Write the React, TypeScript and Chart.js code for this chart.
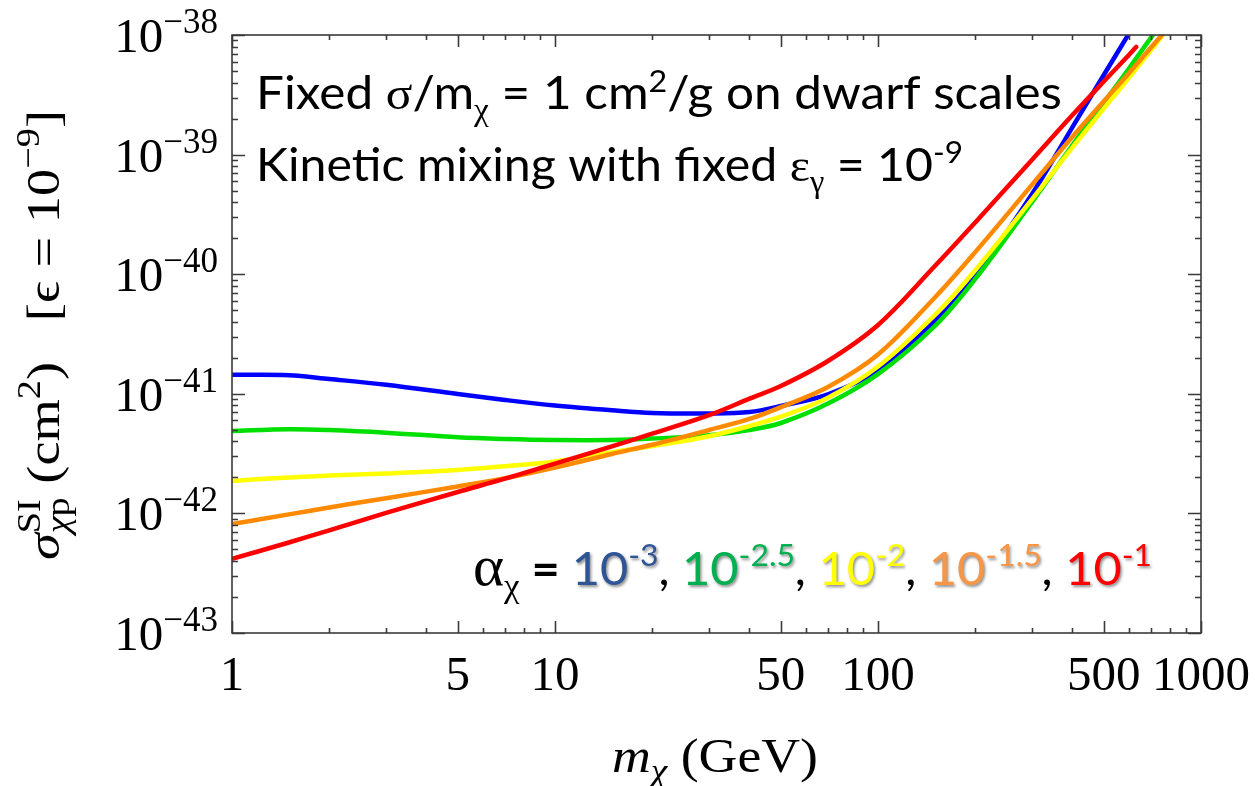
import { useEffect, useRef } from "react";
import { Chart, registerables } from "chart.js";

Chart.register(...registerables);

const WIDTH = 1255;
const HEIGHT = 786;

// Dark-matter mass grid (GeV)
const massGeV = [1, 1.5, 2, 3, 5, 7, 10, 15, 20, 30, 40, 50, 70, 100, 150, 200, 300, 400, 500, 600, 700, 800];

// σ_SI (cm²) for each α_χ, sampled on massGeV (series stop where they leave the frame)
const sigmaAlpha3 = [
  1.44e-41, 1.43e-41, 1.33e-41, 1.19e-41, 9.96e-42, 8.88e-42, 7.98e-42, 7.28e-42, 6.91e-42, 6.85e-42,
  7.05e-42, 7.91e-42, 9.89e-42, 1.58e-41, 4.06e-41, 9.66e-41, 4.69e-40, 1.7e-39, 4.63e-39, 1.04e-38,
];
const sigmaAlpha25 = [
  4.89e-42, 5.06e-42, 4.98e-42, 4.73e-42, 4.33e-42, 4.19e-42, 4.11e-42, 4.11e-42, 4.22e-42, 4.5e-42,
  4.98e-42, 5.7e-42, 8.28e-42, 1.46e-41, 3.69e-41, 9.12e-41, 4.02e-40, 1.2e-39, 2.72e-39, 5.3e-39,
  9.51e-39, 1.57e-38,
];
const sigmaAlpha2 = [
  1.87e-42, 2.0e-42, 2.07e-42, 2.16e-42, 2.31e-42, 2.48e-42, 2.72e-42, 3.25e-42, 3.65e-42, 4.42e-42,
  5.38e-42, 6.43e-42, 9.29e-42, 1.69e-41, 4.56e-41, 1.08e-40, 4.25e-40, 1.15e-39, 2.42e-39, 4.42e-39,
  7.49e-39, 1.18e-38,
];
const sigmaAlpha15 = [
  8.15e-43, 9.81e-43, 1.12e-42, 1.34e-42, 1.68e-42, 1.97e-42, 2.42e-42, 3.14e-42, 3.75e-42, 4.98e-42,
  6.16e-42, 7.73e-42, 1.14e-41, 2.13e-41, 6.39e-41, 1.53e-40, 5.61e-40, 1.41e-39, 2.79e-39, 4.84e-39,
  7.85e-39, 1.19e-38,
];
const sigmaAlpha1 = [
  4.16e-43, 5.71e-43, 7.22e-43, 1.01e-42, 1.51e-42, 1.95e-42, 2.61e-42, 3.63e-42, 4.64e-42, 6.62e-42,
  9.1e-42, 1.16e-41, 1.88e-41, 3.76e-41, 1.17e-40, 2.71e-40, 9.07e-40, 2.14e-39, 4.08e-39, 6.86e-39,
];
// the α_χ = 10^-1 curve ends inside the frame
const alpha1EndMass = 630;
const alpha1EndSigma = 7.94e-39;

const lineColors = ["#0000ff", "#00e000", "#ffff00", "#ff8a00", "#ff0000"];
const legendColors = ["#2f5597", "#00b050", "#ffff00", "#f79646", "#ff0000"];
const legendExponents = ["-3", "-2.5", "-2", "-1.5", "-1"];

// axis ticks
const xMajorTicks = [1, 5, 10, 50, 100, 500, 1000];
const xMinorTicks = [2, 3, 4, 6, 7, 8, 9, 20, 30, 40, 60, 70, 80, 90, 200, 300, 400, 600, 700, 800, 900];
const yDecades = [-43, -42, -41, -40, -39, -38];

const SERIF = '"Liberation Serif", "Times New Roman", serif';
const SANS = 'Lato, "Open Sans", sans-serif';

type Run = {
  t: string;
  font: string;
  dy?: number;
  color?: string;
  stack?: boolean;
  shadow?: boolean;
};

function drawRuns(
  ctx: CanvasRenderingContext2D,
  runs: Run[],
  x: number,
  y: number,
  fit?: number,
  align: "left" | "center" | "right" = "left"
) {
  const widths = runs.map((r) => {
    ctx.font = r.font;
    return ctx.measureText(r.t).width;
  });
  const adv = runs.map((r, i) => (r.stack ? 0 : widths[i]));
  const natural = adv.reduce((a, b) => a + b, 0);
  const sx = fit ? fit / natural : 1;
  const total = natural * sx;
  const start = align === "center" ? x - total / 2 : align === "right" ? x - total : x;
  ctx.save();
  ctx.translate(start, y);
  ctx.scale(sx, 1);
  ctx.textBaseline = "alphabetic";
  ctx.textAlign = "left";
  let cx = 0;
  runs.forEach((r, i) => {
    ctx.font = r.font;
    ctx.fillStyle = r.color ?? "#000";
    if (r.shadow) {
      ctx.shadowColor = "rgba(0,0,0,0.45)";
      ctx.shadowBlur = 3;
      ctx.shadowOffsetX = 1.5;
      ctx.shadowOffsetY = 1.5;
    } else {
      ctx.shadowColor = "transparent";
      ctx.shadowBlur = 0;
      ctx.shadowOffsetX = 0;
      ctx.shadowOffsetY = 0;
    }
    ctx.fillText(r.t, cx, r.dy ?? 0);
    cx += adv[i];
  });
  ctx.restore();
}

const framePlugin = {
  id: "mmaFrame",
  afterDatasetsDraw(chart: any) {
    const { ctx, chartArea: a, scales } = chart;
    const xs = scales.x;
    const ys = scales.y;
    ctx.save();
    ctx.strokeStyle = "#3a3a3a";
    ctx.lineWidth = 1.6;
    ctx.strokeRect(a.left, a.top, a.right - a.left, a.bottom - a.top);
    ctx.beginPath();
    const xTick = (v: number, len: number) => {
      const px = Math.round(xs.getPixelForValue(v)) + 0.5;
      ctx.moveTo(px, a.bottom);
      ctx.lineTo(px, a.bottom - len);
      ctx.moveTo(px, a.top);
      ctx.lineTo(px, a.top + len);
    };
    const yTick = (v: number, len: number) => {
      const py = Math.round(ys.getPixelForValue(v)) + 0.5;
      ctx.moveTo(a.left, py);
      ctx.lineTo(a.left + len, py);
      ctx.moveTo(a.right, py);
      ctx.lineTo(a.right - len, py);
    };
    xMajorTicks.forEach((v) => xTick(v, 12));
    xMinorTicks.forEach((v) => xTick(v, 5));
    yDecades.forEach((e) => {
      yTick(Math.pow(10, e), 13);
      if (e < -38) for (let k = 2; k <= 9; k++) yTick(k * Math.pow(10, e), 6);
    });
    ctx.stroke();
    ctx.restore();
  },
  afterDraw(chart: any) {
    const { ctx, scales } = chart;
    const xs = scales.x;
    const ys = scales.y;

    // y tick labels 10^e
    yDecades.forEach((e) => {
      const py = ys.getPixelForValue(Math.pow(10, e));
      const sup = "\u2212" + Math.abs(e);
      ctx.font = `49px ${SERIF}`;
      const w10 = ctx.measureText("10").width;
      ctx.font = `35px ${SERIF}`;
      const ws = ctx.measureText(sup).width;
      const x0 = 218 - w10 - ws;
      drawRuns(ctx, [
        { t: "10", font: `49px ${SERIF}` },
        { t: sup, font: `35px ${SERIF}`, dy: -19 },
      ], x0, py + 17);
    });

    // x tick labels
    xMajorTicks.forEach((v) => {
      const px = xs.getPixelForValue(v);
      drawRuns(ctx, [{ t: String(v), font: `49px ${SERIF}` }], px, 690, undefined, "center");
    });

    // x axis title
    drawRuns(ctx, [
      { t: "m", font: `italic 49px ${SERIF}` },
      { t: "\u03c7", font: `italic 34px ${SERIF}`, dy: 10 },
      { t: " (GeV)", font: `49px ${SERIF}` },
    ], 612, 772, 206);

    // y axis title (rotated)
    ctx.save();
    ctx.translate(59, 560);
    ctx.rotate(-Math.PI / 2);
    drawRuns(ctx, [
      { t: "\u03c3", font: `italic 47px ${SERIF}` },
      { t: "SI", font: `33px ${SERIF}`, dy: -19, stack: true },
      { t: "\u03c7", font: `italic 33px ${SERIF}`, dy: 10 },
      { t: "p", font: `33px ${SERIF}`, dy: 10 },
      { t: " (cm", font: `47px ${SERIF}` },
      { t: "2", font: `33px ${SERIF}`, dy: -19 },
      { t: ")   [", font: `47px ${SERIF}` },
      { t: "\u03f5", font: `47px ${SERIF}` },
      { t: " = 10", font: `47px ${SERIF}` },
      { t: "\u22129", font: `33px ${SERIF}`, dy: -20 },
      { t: "]", font: `47px ${SERIF}` },
    ], 0, 0, 450);
    ctx.restore();

    // annotation lines
    drawRuns(ctx, [
      { t: "Fixed ", font: `46px ${SANS}` },
      { t: "\u03c3", font: `46px ${SERIF}` },
      { t: "/m", font: `46px ${SANS}` },
      { t: "\u03c7", font: `31px ${SERIF}`, dy: 11 },
      { t: " = 1 cm", font: `46px ${SANS}` },
      { t: "2", font: `30px ${SANS}`, dy: -17 },
      { t: "/g on dwarf scales", font: `46px ${SANS}` },
    ], 256, 109, 806);

    drawRuns(ctx, [
      { t: "Kinetic mixing with fixed ", font: `46px ${SANS}` },
      { t: "\u03b5", font: `46px ${SERIF}` },
      { t: "\u03b3", font: `31px ${SERIF}`, dy: 11 },
      { t: " = 10", font: `46px ${SANS}` },
      { t: "-9", font: `30px ${SANS}`, dy: -18 },
    ], 256, 181, 707);

    // α_χ legend line
    const legendRuns: Run[] = [
      { t: "\u03b1", font: `56px ${SERIF}` },
      { t: "\u03c7", font: `33px ${SERIF}`, dy: 12 },
      { t: " = ", font: `bold 46px ${SANS}` },
    ];
    legendExponents.forEach((ex, i) => {
      legendRuns.push({ t: "10", font: `46px ${SANS}`, color: legendColors[i], shadow: true });
      legendRuns.push({ t: ex, font: `30px ${SANS}`, dy: -19, color: legendColors[i], shadow: true });
      if (i < legendExponents.length - 1) legendRuns.push({ t: ", ", font: `46px ${SANS}` });
    });
    drawRuns(ctx, legendRuns, 473, 585, 679);
  },
};

function series(masses: number[], sigmas: number[]) {
  return sigmas.map((s, i) => ({ x: masses[i], y: s }));
}

export default function App() {
  const canvasRef = useRef<HTMLCanvasElement | null>(null);

  useEffect(() => {
    const canvas = canvasRef.current;
    if (!canvas) return;

    const alpha1Data = series(massGeV, sigmaAlpha1);
    alpha1Data.push({ x: alpha1EndMass, y: alpha1EndSigma });

    const make = (label: string, data: { x: number; y: number }[], color: string) => ({
      label,
      data,
      borderColor: color,
      backgroundColor: color,
      borderWidth: 4.5,
      borderCapStyle: "round" as const,
      borderJoinStyle: "round" as const,
      pointRadius: 0,
      fill: false,
      tension: 0.35,
      clip: 0,
    });

    // first dataset is painted last (on top)
    const chart = new Chart(canvas, {
      type: "line",
      data: {
        datasets: [
          make("α = 10^-1", alpha1Data, lineColors[4]),
          make("α = 10^-1.5", series(massGeV, sigmaAlpha15), lineColors[3]),
          make("α = 10^-2", series(massGeV, sigmaAlpha2), lineColors[2]),
          make("α = 10^-2.5", series(massGeV, sigmaAlpha25), lineColors[1]),
          make("α = 10^-3", series(massGeV, sigmaAlpha3), lineColors[0]),
        ],
      },
      options: {
        animation: false,
        responsive: false,
        devicePixelRatio: 1,
        events: [],
        layout: { padding: { left: 232, top: 35, right: WIDTH - 1201, bottom: HEIGHT - 633 } },
        scales: {
          x: { type: "logarithmic", min: 1, max: 1000, display: false },
          y: { type: "logarithmic", min: 1e-43, max: 1e-38, display: false },
        },
        plugins: {
          legend: { display: false },
          tooltip: { enabled: false },
        },
      },
      plugins: [framePlugin],
    });

    return () => chart.destroy();
  }, []);

  return (
    <div style={{ position: "absolute", left: 0, top: 0, width: WIDTH, height: HEIGHT, background: "#fff" }}>
      <canvas ref={canvasRef} width={WIDTH} height={HEIGHT} style={{ display: "block" }} />
    </div>
  );
}
